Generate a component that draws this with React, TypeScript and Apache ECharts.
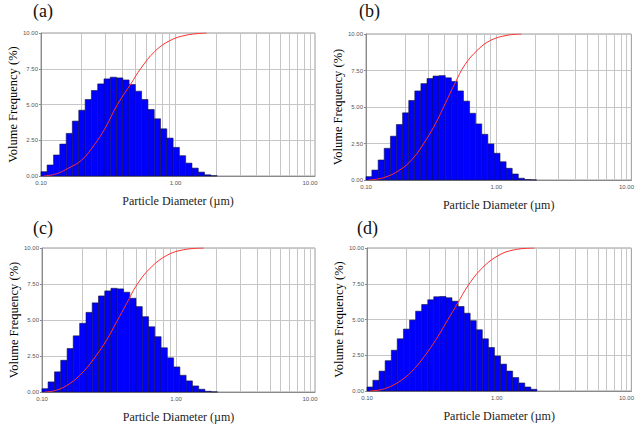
import React, { useEffect, useRef } from 'react';
import * as echarts from 'echarts';

// Size-class edges (µm), log-spaced classes
const binEdges = [0.100, 0.111, 0.124, 0.138, 0.154, 0.171, 0.191, 0.213, 0.237, 0.264, 0.294, 0.327, 0.364, 0.406, 0.452, 0.503, 0.560, 0.624, 0.695, 0.774, 0.862, 0.960, 1.069, 1.190, 1.326, 1.477, 1.644, 1.831, 2.040];

// Volume frequency (%) per class
const freqA = [0.3, 0.77, 1.47, 2.23, 2.98, 3.84, 4.6, 5.35, 5.98, 6.44, 6.79, 6.91, 6.86, 6.72, 6.4, 5.93, 5.35, 4.65, 4.0, 3.3, 2.65, 2.0, 1.42, 0.9, 0.55, 0.27, 0.08, 0.02];
const freqB = [0.23, 0.68, 1.37, 2.17, 3.0, 3.8, 4.6, 5.45, 6.1, 6.6, 6.95, 7.12, 7.15, 7.0, 6.75, 6.1, 5.4, 4.57, 3.84, 3.13, 2.47, 1.83, 1.25, 0.8, 0.41, 0.12, 0.03, 0.01];
const freqC = [0.23, 0.7, 1.4, 2.2, 3.02, 3.9, 4.77, 5.53, 6.19, 6.67, 7.02, 7.2, 7.16, 6.93, 6.51, 5.93, 5.23, 4.53, 3.84, 3.07, 2.37, 1.74, 1.16, 0.77, 0.42, 0.19, 0.05, 0.01];
const freqD = [0.28, 0.75, 1.39, 2.12, 2.85, 3.65, 4.33, 4.96, 5.58, 6.05, 6.38, 6.59, 6.61, 6.52, 6.28, 5.91, 5.44, 4.92, 4.28, 3.65, 3.04, 2.45, 1.88, 1.39, 0.94, 0.56, 0.28, 0.12];

// Red cumulative curves: diameter (µm) and value
const cumXA = [0.105, 0.13, 0.16, 0.2, 0.25, 0.3, 0.37, 0.47, 0.55, 0.7, 0.9, 1.2, 1.7];
const cumYA = [0, 0.15, 0.55, 1.1, 2.2, 3.35, 5.0, 6.5, 7.5, 8.7, 9.45, 9.85, 10.0];
const cumXB = [0.105, 0.137, 0.182, 0.23, 0.289, 0.343, 0.407, 0.483, 0.574, 0.722, 0.907, 1.21, 1.56];
const cumYB = [0, 0.16, 0.69, 1.49, 2.75, 3.89, 5.26, 6.64, 7.89, 8.92, 9.57, 9.91, 10.0];
const cumXC = [0.105, 0.128, 0.161, 0.203, 0.255, 0.303, 0.361, 0.429, 0.51, 0.642, 0.855, 1.14, 1.61];
const cumYC = [0, 0.12, 0.58, 1.4, 2.56, 3.6, 4.88, 6.16, 7.44, 8.6, 9.49, 9.88, 10.0];
const cumXD = [0.105, 0.137, 0.184, 0.233, 0.294, 0.352, 0.42, 0.501, 0.598, 0.757, 1.02, 1.37, 1.95];
const cumYD = [0, 0.16, 0.75, 1.58, 2.75, 3.81, 4.99, 6.16, 7.34, 8.52, 9.46, 9.88, 10.0];

// Vertical grid lines (µm) and axis ranges
const gridLineValues = [0.2, 0.3, 0.4, 0.5, 0.6, 0.7, 0.8, 0.9, 1, 2, 3, 4, 5, 6, 7, 8, 9, 10];
const xMin = 0.1;
const xMax = 10.9;
const yMin = 0;
const yMax = 10;
const yInterval = 2.5;

const panelLabels = ['(a)', '(b)', '(c)', '(d)'];
const xAxisName = 'Particle Diameter (\u00b5m)';
const yAxisName = 'Volume Frequency (%)';

const panels = [
  { freq: freqA, cx: cumXA, cy: cumYA },
  { freq: freqB, cx: cumXB, cy: cumYB },
  { freq: freqC, cx: cumXC, cy: cumYC },
  { freq: freqD, cx: cumXD, cy: cumYD },
];

// layout (px)
const layout = [
  { left: 41, top: 33, width: 274, height: 143, lx: 33, ly: 2 },
  { left: 366, top: 34, width: 273, height: 146, lx: 359, ly: 2 },
  { left: 42, top: 248, width: 273, height: 144, lx: 33, ly: 219 },
  { left: 367, top: 248, width: 269, height: 143, lx: 357, ly: 219 },
];

const serif = '"Liberation Serif", "DejaVu Serif", serif';
const sans = '"Liberation Sans", Arial, sans-serif';

export default function App() {
  const ref = useRef<HTMLDivElement>(null);
  useEffect(() => {
    if (!ref.current) return;
    const chart = echarts.init(ref.current, null, { renderer: 'svg' });
    const grids: any[] = [];
    const xAxes: any[] = [];
    const yAxes: any[] = [];
    const series: any[] = [];
    const graphics: any[] = [];

    panels.forEach((p, i) => {
      const L = layout[i];
      grids.push({
        left: L.left, top: L.top, width: L.width, height: L.height,
        show: true, borderColor: '#9a9a9a', borderWidth: 1, containLabel: false,
      });
      xAxes.push({
        type: 'log', logBase: 10, gridIndex: i, min: xMin, max: xMax,
        splitNumber: 2,
        name: xAxisName, nameLocation: 'middle', nameGap: 19,
        nameTextStyle: { fontFamily: serif, fontSize: 12, color: '#222' },
        axisLine: { show: true, lineStyle: { color: '#8a8a8a' } },
        axisTick: { show: false },
        splitLine: { show: false },
        axisLabel: {
          fontFamily: sans, fontSize: 6, color: '#555', margin: 4,
          showMaxLabel: false,
          formatter: (v: number) => {
            const l = Math.log10(v);
            return Math.abs(l - Math.round(l)) < 1e-3 ? v.toFixed(2) : '';
          },
        },
      });
      yAxes.push({
        type: 'value', gridIndex: i, min: yMin, max: yMax, interval: yInterval,
        name: yAxisName, nameLocation: 'middle', nameGap: 21, nameRotate: 90,
        nameTextStyle: { fontFamily: serif, fontSize: 12.5, color: '#000' },
        axisLine: { show: true, lineStyle: { color: '#8a8a8a' } },
        axisTick: { show: true, length: 2, lineStyle: { color: '#8a8a8a' } },
        splitLine: { show: true, lineStyle: { color: '#c6c6c6', width: 1 } },
        axisLabel: {
          fontFamily: sans, fontSize: 6, color: '#555', margin: 3,
          formatter: (v: number) => v.toFixed(2),
        },
      });
      // vertical grid lines
      series.push({
        type: 'custom', xAxisIndex: i, yAxisIndex: i, z: 1, silent: true,
        data: gridLineValues.map((v) => [v, yMin, yMax]),
        encode: { x: 0, y: [1, 2] },
        renderItem: (_params: any, api: any) => {
          const a = api.coord([api.value(0), api.value(1)]);
          const b = api.coord([api.value(0), api.value(2)]);
          return {
            type: 'line',
            shape: { x1: Math.round(a[0]) + 0.5, y1: a[1], x2: Math.round(a[0]) + 0.5, y2: b[1] },
            style: { stroke: '#c6c6c6', lineWidth: 1 },
          };
        },
      });
      // histogram bars
      series.push({
        type: 'custom', xAxisIndex: i, yAxisIndex: i, z: 2, silent: true,
        data: p.freq.map((v, k) => [binEdges[k], binEdges[k + 1], v]),
        encode: { x: [0, 1], y: 2 },
        renderItem: (_params: any, api: any) => {
          const p0 = api.coord([api.value(0), api.value(2)]);
          const p1 = api.coord([api.value(1), 0]);
          return {
            type: 'rect',
            shape: { x: p0[0], y: p0[1], width: p1[0] - p0[0], height: p1[1] - p0[1] },
            style: { fill: '#0000ff', stroke: '#14143a', lineWidth: 0.6 },
          };
        },
      });
      // cumulative curve
      series.push({
        type: 'line', xAxisIndex: i, yAxisIndex: i, z: 3, silent: true,
        data: p.cx.map((x, k) => [x, p.cy[k]]),
        smooth: 0.4, showSymbol: false, symbol: 'none',
        lineStyle: { color: '#ff3030', width: 1 },
      });
      graphics.push({
        type: 'text', left: L.lx, top: L.ly,
        style: { text: panelLabels[i], font: `18px ${serif}`, fill: '#111' },
      });
    });

    chart.setOption({
      animation: false,
      backgroundColor: '#ffffff',
      grid: grids,
      xAxis: xAxes,
      yAxis: yAxes,
      series,
      graphic: graphics,
    });
    return () => chart.dispose();
  }, []);
  return (
    <div
      ref={ref}
      style={{ position: 'fixed', left: 0, top: 0, width: 637, height: 430, background: '#fff' }}
    />
  );
}
